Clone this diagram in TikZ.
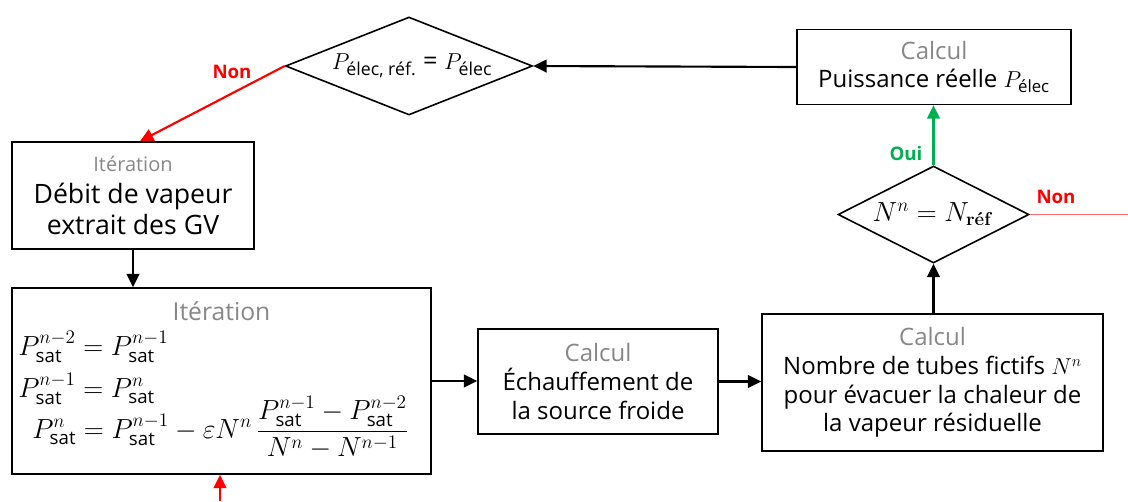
\documentclass[tikz,border=0pt]{standalone}
\usepackage{amsmath}
\usepackage{fontspec}
\newfontfamily\os{Open Sans}
\usetikzlibrary{arrows.meta,shapes.geometric,calc}
\definecolor{lblgray}{HTML}{878787}
\definecolor{nonred}{HTML}{FF0000}
\definecolor{ouigreen}{HTML}{00B050}
\definecolor{lightred}{HTML}{FF6B6B}
\newcommand\psat{\text{sat}}
\begin{document}
\begin{tikzpicture}[x=0.75pt,y=-0.75pt,
  box/.style={draw,line width=1.2pt,rectangle,inner sep=0pt,align=center,font=\os\fontsize{18}{21.5}\selectfont},
  dia/.style={draw,line width=1.2pt,diamond,inner sep=0pt},
  arr/.style={line width=1.6pt,-{Triangle[length=10pt,width=9.5pt]}},
  lbl/.style={text=lblgray},
  ans/.style={font=\os\bfseries\fontsize{14}{16}\selectfont},
  eq/.style={inner sep=0pt,anchor=base west,font=\os\fontsize{20}{24}\selectfont}]
\useasboundingbox (0,0) rectangle (1128,501);

\node[dia,minimum width=185.25pt,minimum height=73.5pt] (d1) at (409,66) {};
\node[font=\os\fontsize{19}{22}\selectfont] (t1) at (412,66) {$P_{\text{élec, réf.}}$ = $P_{\text{élec}}$};

\node[box,minimum width=205.5pt,minimum height=56.25pt] (puiss) at (934,67)
  {\textcolor{lblgray}{Calcul}\\Puissance réelle $P_{\text{élec}}$};

\node[dia,minimum width=143.25pt,minimum height=72.75pt] (d2) at (933.5,214.5) {};
\node[font=\fontsize{20}{24}\selectfont] (t2) at (932,214) {$N^n = N_{\textbf{\rmfamily réf}}$};

\node[box,minimum width=181.5pt,minimum height=80.25pt,font=\os\fontsize{20}{23.5}\selectfont] (debit) at (133,195.5)
  {{\fontsize{15}{18}\selectfont\textcolor{lblgray}{Itération}}\\Débit de vapeur\\extrait des GV};

\node[box,minimum width=314.25pt,minimum height=139.5pt] (iter) at (221.5,381) {};
\node[anchor=base,inner sep=0pt,font=\os\fontsize{18.5}{22}\selectfont,text=lblgray] (ititle) at (221.5,320) {Itération};
\node[eq] (eq1) at (18,355) {$P^{n-2}_{\psat} = P^{n-1}_{\psat}$};
\node[eq] (eq2) at (18,397) {$P^{n-1}_{\psat} = P^{n}_{\psat}$};
\node[eq] (eq3) at (32,438) {$P^{n}_{\psat} = P^{n-1}_{\psat} - \varepsilon N^n\,\dfrac{P^{n-1}_{\psat} - P^{n-2}_{\psat}}{N^n - N^{n-1}}$};

\node[box,minimum width=180pt,minimum height=78.75pt] (echauf) at (598,381.5)
  {\textcolor{lblgray}{Calcul}\\Échauffement de\\la source froide};

\node[box,minimum width=255.75pt,minimum height=102.75pt] (nombre) at (932.5,382.5)
  {\textcolor{lblgray}{Calcul}\\Nombre de tubes fictifs $N^n$\\pour évacuer la chaleur de\\la vapeur résiduelle};

\coordinate (rb) at (220,501);
\coordinate (re) at (1128,214.5);

\draw[arr] (puiss.west) -- (d1.east);
\draw[arr,nonred] (d1.west) -- ([xshift=5.25pt]debit.north);
\draw[arr] (debit.south) -- (debit.south |- iter.north);
\draw[arr] (iter.east) -- (iter.east -| echauf.west);
\draw[arr] (echauf.east) -- (echauf.east -| nombre.west);
\draw[arr] (d2.south |- nombre.north) -- (d2.south);
\draw[arr,ouigreen] (d2.north) -- (d2.north |- puiss.south);
\draw[line width=1.1pt,lightred] (d2.east) -- (re);
\draw[arr,nonred] (rb) -- (rb |- iter.south);

\node[ans,text=nonred] (non1) at (232,72) {Non};
\node[ans,text=ouigreen] (oui) at (906,153) {Oui};
\node[ans,text=nonred] (non2) at (1056,197) {Non};
\end{tikzpicture}
\end{document}
